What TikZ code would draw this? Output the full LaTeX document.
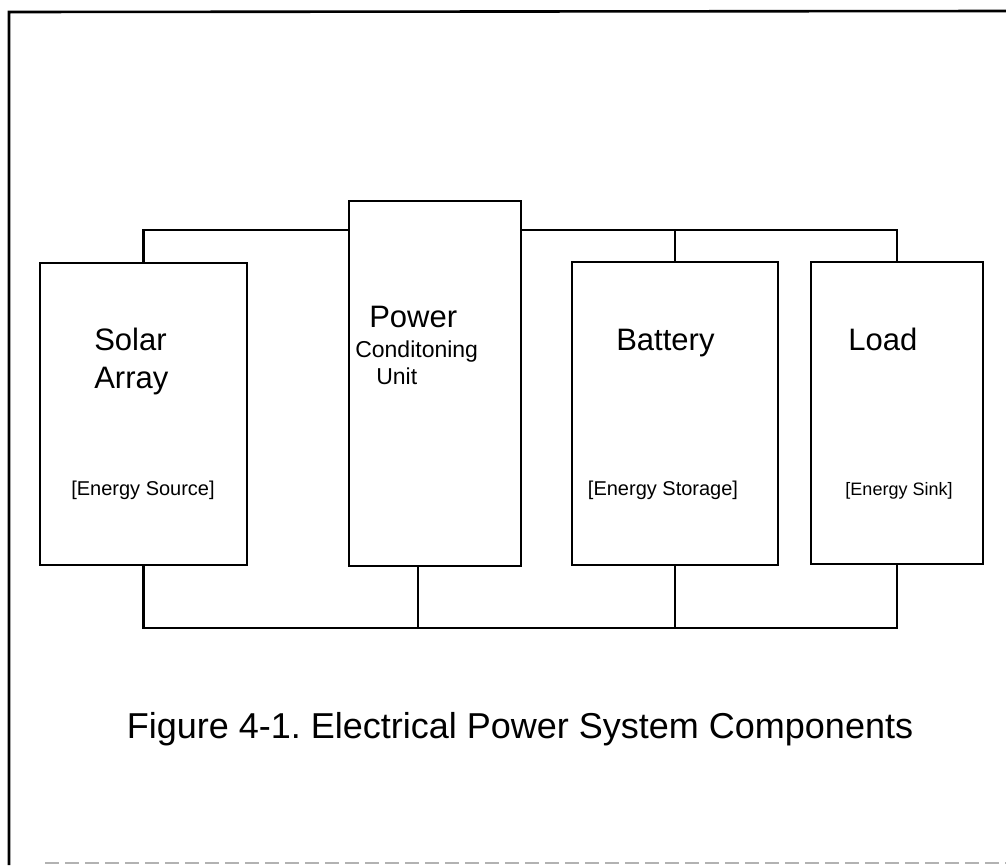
\documentclass[tikz,border=0pt]{standalone}
\usepackage{fontspec}
\setmainfont{Liberation Sans}
\frenchspacing
\begin{document}
\begin{tikzpicture}[x=1pt,y=-1pt,
  line width=2.6pt,
  box/.style={draw, rectangle, inner sep=0pt, line width=2.6pt},
  wire/.style={line width=2.6pt},
  bigtext/.style={inner sep=0pt, anchor=base west, font=\fontsize{31}{37}\selectfont},
  midtext/.style={inner sep=0pt, anchor=base west, font=\fontsize{23}{27}\selectfont},
  smalltext/.style={inner sep=0pt, anchor=base, font=\fontsize{20}{24}\selectfont},
  captext/.style={inner sep=0pt, anchor=base, font=\fontsize{36}{42}\selectfont}]
\useasboundingbox (0,0) rectangle (1006,865);
% frame
\draw[line width=2.6pt] (1006,11) -- (9,12) -- (9,865);
\draw[line width=2pt, gray!60, dash pattern=on 14pt off 6pt] (45,863) -- (1006,863);
% boxes
\node[box, minimum width=207pt, minimum height=302pt] (solar) at (143.5,414) {};
\node[box, minimum width=172pt, minimum height=365pt] (pcu) at (435,383.5) {};
\node[box, minimum width=206pt, minimum height=303pt] (battery) at (675,413.5) {};
\node[box, minimum width=172pt, minimum height=302pt] (load) at (897,413) {};
% buses
\coordinate (tb) at (0,230);
\coordinate (bb) at (0,628);
\coordinate (pcubot) at (418,566);
\draw[wire] (solar.north) |- (pcu.west |- tb);
\draw[wire] (pcu.east |- tb) -| (load.north);
\draw[wire] (battery.north) -- (battery.north |- tb);
\draw[wire] (solar.south) |- (load.south |- bb) -- (load.south);
\draw[wire] (pcubot) -- (pcubot |- bb);
\draw[wire] (battery.south) -- (battery.south |- bb);
% labels
\node[bigtext] (solar1) at (93,350) {Solar};
\node[bigtext] (solar2) at (93,388) {Array};
\node[smalltext] (solar3) at (143,495) {[Energy Source]};
\node[bigtext] (pcu1) at (368,327) {Power};
\node[midtext] (pcu2) at (354,357) {Conditoning};
\node[midtext] (pcu3) at (375,384) {Unit};
\node[bigtext] (bat1) at (615,350) {Battery};
\node[smalltext] (bat2) at (663,495) {[Energy Storage]};
\node[bigtext] (load1) at (847,350) {Load};
\node[smalltext, font=\fontsize{18}{22}\selectfont] (load2) at (899,495) {[Energy Sink]};
\node[captext] (caption) at (520,738) {Figure 4-1. Electrical Power System Components};
\end{tikzpicture}
\end{document}
